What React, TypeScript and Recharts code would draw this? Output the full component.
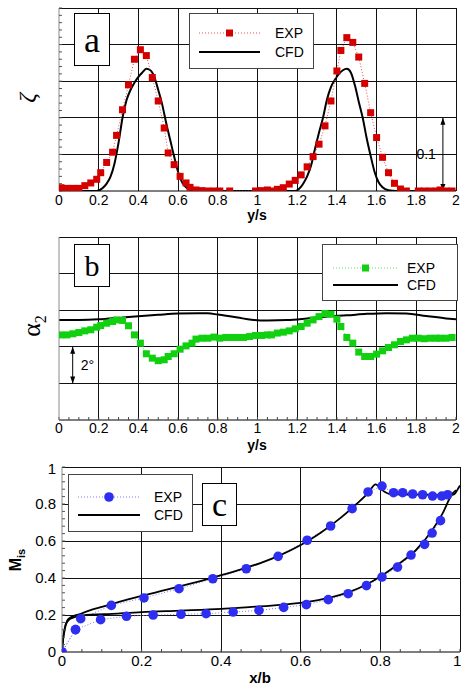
import React from "react";
import { LineChart, Line, XAxis, YAxis, CartesianGrid, ReferenceLine } from "recharts";

const FONT = '"Liberation Sans", Arial, Helvetica, sans-serif';
const SERIF = '"Liberation Serif", "Times New Roman", serif';

const RED = "#D40000";
const RED_LINE = "#E05050";
const GREEN = "#10D010";
const GREEN_LINE = "#60DA60";
const BLUE = "#2E2EF2";
const BLUE_LINE = "#7C7CF2";
const GRID = "#111";
const FRAME = "#8a8a8a";

// ---- panel a : loss coefficient zeta over y/s
const aExpX = [0.01, 0.04, 0.07, 0.1, 0.13, 0.16, 0.19, 0.21, 0.24, 0.27, 0.29, 0.32, 0.35, 0.38, 0.41, 0.44, 0.47, 0.5, 0.53, 0.55, 0.58, 0.61, 0.64, 0.66, 0.69, 0.72, 0.75, 0.78, 0.81, 0.86, 0.99, 1.02, 1.05, 1.07, 1.1, 1.13, 1.16, 1.19, 1.22, 1.25, 1.28, 1.31, 1.34, 1.37, 1.4, 1.42, 1.45, 1.48, 1.51, 1.54, 1.57, 1.6, 1.63, 1.66, 1.69, 1.72, 1.75, 1.81, 1.84, 1.87, 1.9, 1.92, 1.95, 1.98];
const aExpY = [0.0045, 0.0036, 0.0036, 0.0036, 0.0073, 0.011, 0.016, 0.025, 0.039, 0.053, 0.076, 0.111, 0.145, 0.18, 0.193, 0.185, 0.155, 0.123, 0.086, 0.052, 0.036, 0.02, 0.011, 0.005, 0.0014, 0.0005, 0, 0, 0, 0, 0, 0.0005, 0.0014, 0, 0.0023, 0.0045, 0.0095, 0.0145, 0.022, 0.033, 0.047, 0.064, 0.089, 0.123, 0.164, 0.192, 0.2095, 0.203, 0.183, 0.147, 0.107, 0.073, 0.046, 0.025, 0.0105, 0.0027, 0, 0, 0, 0, 0, 0.0014, 0, 0];
const aCfdX = [0, 0.19, 0.22, 0.24, 0.26, 0.28, 0.3, 0.32, 0.34, 0.36, 0.38, 0.4, 0.42, 0.44, 0.46, 0.48, 0.5, 0.52, 0.54, 0.56, 0.58, 0.6, 0.62, 0.64, 0.67, 0.7, 1.19, 1.21, 1.23, 1.25, 1.27, 1.29, 1.31, 1.33, 1.35, 1.37, 1.39, 1.41, 1.43, 1.45, 1.47, 1.49, 1.51, 1.53, 1.55, 1.57, 1.59, 1.61, 1.63, 1.66, 1.7, 2];
const aCfdY = [0, 0, 0.004, 0.01, 0.02, 0.038, 0.066, 0.1, 0.124, 0.138, 0.148, 0.156, 0.162, 0.167, 0.165, 0.156, 0.138, 0.118, 0.093, 0.07, 0.047, 0.026, 0.012, 0.005, 0.001, 0, 0, 0.003, 0.01, 0.02, 0.035, 0.058, 0.08, 0.1, 0.125, 0.142, 0.152, 0.16, 0.165, 0.167, 0.162, 0.145, 0.122, 0.1, 0.072, 0.048, 0.026, 0.012, 0.005, 0.001, 0, 0];

// ---- panel b : exit flow angle alpha2 (2 deg per grid step)
const bExpX = [0.01, 0.04, 0.07, 0.1, 0.13, 0.16, 0.19, 0.21, 0.24, 0.27, 0.29, 0.32, 0.35, 0.38, 0.41, 0.44, 0.47, 0.5, 0.53, 0.55, 0.58, 0.61, 0.64, 0.67, 0.69, 0.72, 0.75, 0.78, 0.81, 0.84, 0.87, 0.9, 0.93, 0.96, 0.99, 1.02, 1.05, 1.07, 1.1, 1.13, 1.16, 1.19, 1.22, 1.25, 1.28, 1.31, 1.34, 1.37, 1.4, 1.42, 1.45, 1.48, 1.51, 1.54, 1.57, 1.6, 1.63, 1.66, 1.69, 1.72, 1.75, 1.78, 1.81, 1.84, 1.87, 1.9, 1.92, 1.95, 1.98];
const bExpY = [4.65, 4.65, 4.71, 4.78, 4.87, 4.93, 5.07, 5.16, 5.29, 5.38, 5.47, 5.44, 5.15, 4.65, 4.2, 3.62, 3.38, 3.24, 3.29, 3.47, 3.62, 3.87, 4.05, 4.2, 4.42, 4.47, 4.47, 4.53, 4.47, 4.51, 4.51, 4.51, 4.51, 4.56, 4.62, 4.62, 4.65, 4.65, 4.75, 4.8, 4.87, 4.98, 5.11, 5.29, 5.47, 5.65, 5.82, 5.78, 5.51, 5.11, 4.51, 4.2, 3.71, 3.47, 3.47, 3.6, 3.78, 3.96, 4.11, 4.29, 4.38, 4.47, 4.47, 4.44, 4.47, 4.47, 4.47, 4.47, 4.51];
const bCfdX = [0, 0.1, 0.2, 0.3, 0.4, 0.5, 0.6, 0.7, 0.75, 0.8, 0.9, 0.97, 1.05, 1.15, 1.25, 1.35, 1.45, 1.55, 1.65, 1.75, 1.85, 1.95, 2];
const bCfdY = [5.47, 5.47, 5.5, 5.58, 5.67, 5.75, 5.82, 5.84, 5.83, 5.76, 5.6, 5.48, 5.44, 5.46, 5.55, 5.66, 5.72, 5.8, 5.84, 5.82, 5.68, 5.55, 5.5];

// ---- panel c : isentropic Mach number over x/b
const cExpUpX = [0, 0.034, 0.047, 0.124, 0.206, 0.294, 0.379, 0.463, 0.543, 0.616, 0.675, 0.729, 0.769, 0.804, 0.833, 0.856, 0.881, 0.906, 0.931, 0.954, 0.969];
const cExpUpY = [0, 0.121, 0.18, 0.252, 0.292, 0.342, 0.396, 0.45, 0.517, 0.604, 0.681, 0.775, 0.865, 0.897, 0.861, 0.861, 0.854, 0.85, 0.843, 0.843, 0.85];
const cExpLoX = [0, 0.034, 0.097, 0.162, 0.229, 0.299, 0.362, 0.43, 0.495, 0.557, 0.614, 0.669, 0.719, 0.765, 0.804, 0.843, 0.877, 0.911, 0.93, 0.951];
const cExpLoY = [0, 0.121, 0.175, 0.193, 0.2, 0.204, 0.207, 0.216, 0.225, 0.241, 0.256, 0.283, 0.315, 0.359, 0.405, 0.459, 0.524, 0.582, 0.643, 0.71];
const cCfdUpX = [0, 0.003, 0.007, 0.013, 0.02, 0.03, 0.043, 0.07, 0.114, 0.15, 0.2, 0.25, 0.3, 0.35, 0.4, 0.45, 0.5, 0.55, 0.6, 0.65, 0.7, 0.74, 0.77, 0.788, 0.805, 0.822, 0.84, 0.9, 0.95, 0.975, 0.985, 0.993, 1];
const cCfdUpY = [0, 0.08, 0.13, 0.17, 0.185, 0.195, 0.204, 0.225, 0.252, 0.275, 0.303, 0.33, 0.357, 0.385, 0.415, 0.447, 0.482, 0.525, 0.578, 0.645, 0.725, 0.8, 0.862, 0.906, 0.874, 0.855, 0.852, 0.851, 0.849, 0.848, 0.852, 0.875, 0.9];
const cCfdLoX = [0, 0.003, 0.006, 0.01, 0.018, 0.028, 0.038, 0.06, 0.106, 0.2, 0.3, 0.4, 0.47, 0.55, 0.612, 0.67, 0.721, 0.765, 0.805, 0.847, 0.889, 0.93, 0.956, 0.981, 0.99];
const cCfdLoY = [0, 0.07, 0.11, 0.15, 0.175, 0.185, 0.193, 0.2, 0.204, 0.216, 0.224, 0.233, 0.243, 0.255, 0.27, 0.293, 0.324, 0.365, 0.415, 0.478, 0.55, 0.658, 0.748, 0.856, 0.875];

// axes / ticks
const abTicks = [0, 0.2, 0.4, 0.6, 0.8, 1, 1.2, 1.4, 1.6, 1.8, 2];
const abGridX = [0.2, 0.4, 0.6, 0.8, 1, 1.2, 1.4, 1.6, 1.8, 2];
const aGridY = [0.05, 0.1, 0.15, 0.2, 0.25];
const bGridY = [2, 4, 6, 8, 10];
const cTicks = [0, 0.2, 0.4, 0.6, 0.8, 1];
const cGrid = [0.2, 0.4, 0.6, 0.8, 1];

const steps = (max: number, step: number) =>
  Array.from({ length: Math.round(max / step) + 1 }, (_, i) => +(i * step).toFixed(3));

const zip = (xs: number[], ys: number[]) => xs.map((x, i) => ({ x, y: ys[i] }));
const blank = () => "";

const TICK = { fontFamily: FONT, fontSize: 14, fill: "#000" };

const squareDot = (color: string) => (p: any) => (
  <rect key={p.index} x={p.cx - 3.5} y={p.cy - 3.5} width={7} height={7} fill={color} />
);
const roundDot = (color: string) => (p: any) => (
  <circle key={p.index} cx={p.cx} cy={p.cy} r={4.8} fill={color} />
);

const arrowShape = (label: string, side: "left" | "right") => (p: any) => {
  const x = p.x1;
  const top = Math.min(p.y1, p.y2);
  const bot = Math.max(p.y1, p.y2);
  return (
    <g>
      <line x1={x} x2={x} y1={top} y2={bot} stroke="#000" strokeWidth={1} />
      <path d={`M${x - 2.5},${top + 7} L${x},${top} L${x + 2.5},${top + 7} Z`} fill="#000" />
      <path d={`M${x - 2.5},${bot - 7} L${x},${bot} L${x + 2.5},${bot - 7} Z`} fill="#000" />
      <text
        x={side === "left" ? x - 7 : x + 8}
        y={(top + bot) / 2}
        textAnchor={side === "left" ? "end" : "start"}
        dominantBaseline="central"
        style={{ fontFamily: FONT, fontSize: 14, fill: "#000" }}
      >
        {label}
      </text>
    </g>
  );
};

const hGrid = (values: number[]) =>
  values.map((v) => (
    <ReferenceLine key={`h${v}`} y={v} stroke={GRID} strokeWidth={1} shapeRendering="crispEdges" />
  ));

function LegendBox(props: {
  left: number; top: number; width: number; height: number;
  color: string; lineColor: string; marker: "square" | "circle";
  x1: number; x2: number; textX: number; y1: number; y2: number;
}) {
  const { left, top, width, height, color, lineColor, marker, x1, x2, textX, y1, y2 } = props;
  const mx = (x1 + x2) / 2;
  return (
    <svg style={{ position: "absolute", left, top }} width={width} height={height}>
      <rect x={0.5} y={0.5} width={width - 1} height={height - 1} fill="#fff" stroke="#444" />
      <line x1={x1} x2={x2} y1={y1} y2={y1} stroke={lineColor} strokeDasharray="1 2" />
      {marker === "square" ? (
        <rect x={mx - 3.5} y={y1 - 3.5} width={7} height={7} fill={color} />
      ) : (
        <circle cx={mx} cy={y1} r={4.8} fill={color} />
      )}
      <text x={textX} y={y1} dominantBaseline="central" style={{ fontFamily: FONT, fontSize: 14 }}>EXP</text>
      <line x1={x1} x2={x2} y1={y2} y2={y2} stroke="#000" strokeWidth={2} />
      <text x={textX} y={y2} dominantBaseline="central" style={{ fontFamily: FONT, fontSize: 14 }}>CFD</text>
    </svg>
  );
}

function Tag({ left, top, width, height, size, text }: { left: number; top: number; width: number; height: number; size: number; text: string }) {
  return (
    <div
      style={{
        position: "absolute", left, top, width, height, boxSizing: "border-box",
        border: "1.5px solid #000", background: "#fff", fontFamily: SERIF, fontSize: size,
        display: "flex", alignItems: "center", justifyContent: "center", lineHeight: 1,
      }}
    >
      {text}
    </div>
  );
}

function PanelA() {
  return (
    <div style={{ position: "absolute", left: 0, top: 0 }}>
      <LineChart width={461} height={230} margin={{ top: 8, right: 5, bottom: 9, left: 59 }}>
        <CartesianGrid stroke={GRID} horizontal={false} verticalValues={abGridX} shapeRendering="crispEdges" />
        {hGrid(aGridY)}
        <XAxis type="number" dataKey="x" domain={[0, 2]} ticks={abTicks} tick={TICK}
          tickLine={false} tickSize={0} tickMargin={4} axisLine={{ stroke: "#000" }} height={30} allowDataOverflow />
        <YAxis type="number" domain={[0, 0.25]} ticks={steps(0.25, 0.01)} mirror tickFormatter={blank}
          tickSize={3} tickLine={{ stroke: "#555" }} axisLine={{ stroke: FRAME }} allowDataOverflow />
        <ReferenceLine segment={[{ x: 1.934, y: 0 }, { x: 1.934, y: 0.1 }]} shape={arrowShape("0.1", "left")} />
        <Line data={zip(aCfdX, aCfdY)} dataKey="y" type="monotone" stroke="#000" strokeWidth={2}
          dot={false} activeDot={false} isAnimationActive={false} />
        <Line data={zip(aExpX, aExpY)} dataKey="y" type="linear" stroke={RED_LINE} strokeWidth={1}
          strokeDasharray="1 2" dot={squareDot(RED)} activeDot={false} isAnimationActive={false} />
      </LineChart>
    </div>
  );
}

function PanelB() {
  return (
    <div style={{ position: "absolute", left: 0, top: 230 }}>
      <LineChart width={461} height={230} margin={{ top: 7, right: 5, bottom: 10, left: 59 }}>
        <CartesianGrid stroke={GRID} horizontal={false} verticalValues={abGridX} shapeRendering="crispEdges" />
        {hGrid(bGridY)}
        <XAxis type="number" dataKey="x" domain={[0, 2]} ticks={abTicks} tick={TICK}
          tickLine={false} tickSize={0} tickMargin={3} axisLine={{ stroke: "#000" }} height={30} allowDataOverflow />
        <XAxis xAxisId="minor" type="number" dataKey="x" domain={[0, 2]} ticks={steps(2, 0.05)} mirror
          tickFormatter={blank} tickSize={3} tickLine={{ stroke: "#444" }} axisLine={false} allowDataOverflow />
        <YAxis type="number" domain={[0, 10]} mirror tick={false} tickLine={false}
          axisLine={{ stroke: FRAME }} allowDataOverflow />
        <ReferenceLine segment={[{ x: 0.069, y: 2 }, { x: 0.069, y: 4 }]} shape={arrowShape("2°", "right")} />
        <Line data={zip(bCfdX, bCfdY)} dataKey="y" type="monotone" stroke="#000" strokeWidth={2}
          dot={false} activeDot={false} isAnimationActive={false} />
        <Line data={zip(bExpX, bExpY)} dataKey="y" type="linear" stroke={GREEN_LINE} strokeWidth={1}
          strokeDasharray="1 2" dot={squareDot(GREEN)} activeDot={false} isAnimationActive={false} />
      </LineChart>
    </div>
  );
}

function PanelC() {
  return (
    <div style={{ position: "absolute", left: 0, top: 460 }}>
      <LineChart width={461} height={228} margin={{ top: 7, right: 1, bottom: 6, left: 0 }}>
        <CartesianGrid stroke={GRID} horizontal={false} verticalValues={cGrid} shapeRendering="crispEdges" />
        {hGrid(cGrid)}
        <XAxis type="number" dataKey="x" domain={[0, 1]} ticks={cTicks} tick={{ ...TICK, fontSize: 15 }}
          tickLine={false} tickSize={0} tickMargin={3} axisLine={{ stroke: "#000" }} height={30} allowDataOverflow />
        <XAxis xAxisId="minor" type="number" dataKey="x" domain={[0, 1]} ticks={steps(1, 0.05)} mirror
          tickFormatter={blank} tickSize={3} tickLine={{ stroke: "#444" }} axisLine={false} allowDataOverflow />
        <YAxis type="number" domain={[0, 1]} ticks={cTicks} width={62} tick={{ ...TICK, fontSize: 15 }}
          tickLine={false} tickSize={0} tickMargin={6} axisLine={{ stroke: FRAME }} allowDataOverflow />
        <YAxis yAxisId="minor" type="number" domain={[0, 1]} ticks={steps(1, 0.04)} mirror tickFormatter={blank}
          tickSize={3} tickLine={{ stroke: "#555" }} axisLine={false} allowDataOverflow />
        <Line data={zip(cExpUpX, cExpUpY)} dataKey="y" type="linear" stroke={BLUE_LINE} strokeWidth={1}
          strokeDasharray="1 2" dot={roundDot(BLUE)} activeDot={false} isAnimationActive={false} />
        <Line data={zip(cExpLoX, cExpLoY)} dataKey="y" type="linear" stroke={BLUE_LINE} strokeWidth={1}
          strokeDasharray="1 2" dot={roundDot(BLUE)} activeDot={false} isAnimationActive={false} />
        <Line data={zip(cCfdUpX, cCfdUpY)} dataKey="y" type="monotone" stroke="#000" strokeWidth={1.8}
          dot={false} activeDot={false} isAnimationActive={false} />
        <Line data={zip(cCfdLoX, cCfdLoY)} dataKey="y" type="monotone" stroke="#000" strokeWidth={1.8}
          dot={false} activeDot={false} isAnimationActive={false} />
      </LineChart>
    </div>
  );
}

export default function App() {
  return (
    <div style={{ position: "absolute", left: 0, top: 0, width: 461, height: 688, background: "#fff", overflow: "hidden" }}>
      <PanelA />
      <PanelB />
      <PanelC />

      <LegendBox left={189} top={13} width={125} height={56} color={RED} lineColor={RED_LINE} marker="square"
        x1={10} x2={71} textX={86} y1={20} y2={39} />
      <LegendBox left={322} top={244} width={136} height={57} color={GREEN} lineColor={GREEN_LINE} marker="square"
        x1={11} x2={76} textX={85} y1={24} y2={41} />
      <LegendBox left={68} top={474} width={125} height={58} color={BLUE} lineColor={BLUE_LINE} marker="circle"
        x1={10} x2={72} textX={86} y1={23} y2={41} />

      <Tag left={74} top={13} width={36} height={53} size={36} text="a" />
      <Tag left={74} top={244} width={36} height={43} size={30} text="b" />
      <Tag left={202} top={483} width={35} height={43} size={34} text="c" />

      <svg style={{ position: "absolute", left: 0, top: 0 }} width={461} height={688}>
        <text x={257} y={220} textAnchor="middle" style={{ fontFamily: FONT, fontSize: 14, fontWeight: 700 }}>y/s</text>
        <text x={257} y={450} textAnchor="middle" style={{ fontFamily: FONT, fontSize: 14, fontWeight: 700 }}>y/s</text>
        <text x={260} y={683} textAnchor="middle" style={{ fontFamily: FONT, fontSize: 15, fontWeight: 700 }}>x/b</text>
        <text transform="translate(35,98) rotate(-90)" textAnchor="middle"
          style={{ fontFamily: SERIF, fontSize: 24, fontStyle: "italic" }}>ζ</text>
        <text transform="translate(40,326) rotate(-90)" textAnchor="middle" style={{ fontFamily: SERIF, fontSize: 26 }}>
          α<tspan fontSize={16} dy={6}>2</tspan>
        </text>
        <text transform="translate(21,560) rotate(-90)" textAnchor="middle"
          style={{ fontFamily: FONT, fontSize: 16, fontWeight: 700 }}>
          M<tspan fontSize={11} dy={4}>is</tspan>
        </text>
      </svg>
    </div>
  );
}
